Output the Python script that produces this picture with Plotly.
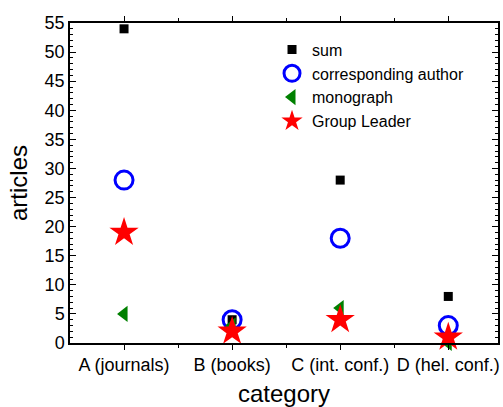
import plotly.graph_objects as go

categories = ["A (journals)", "B (books)", "C (int. conf.)", "D (hel. conf.)"]
sum_vals = [54, 4, 28, 8]
corr_vals = [28, 4, 18, 3]
mono_vals = [5, 3, 6, 0]
leader_vals = [19, 2, 4, 1]

xpos = list(range(len(categories)))

fig = go.Figure()
fig.add_trace(go.Scatter(x=xpos, y=sum_vals, mode="markers", name="sum",
                         marker=dict(symbol="square", size=9, color="black")))
fig.add_trace(go.Scatter(x=xpos, y=corr_vals, mode="markers", name="corresponding author",
                         marker=dict(symbol="circle-open", size=18, color="blue",
                                     line=dict(width=3, color="blue"))))
fig.add_trace(go.Scatter(x=xpos, y=mono_vals, mode="markers", name="monograph",
                         marker=dict(symbol="triangle-left", size=14, color="green")))
fig.add_trace(go.Scatter(x=xpos, y=leader_vals, mode="markers", name="Group Leader",
                         marker=dict(symbol="star", size=22, color="red")))
for tr in fig.data:
    tr.cliponaxis = False

font = "Arial, Liberation Sans, sans-serif"
fig.update_layout(
    width=503, height=407,
    margin=dict(l=70, r=5, t=23, b=64),
    paper_bgcolor="white", plot_bgcolor="white",
    font=dict(family=font, color="black", size=18),
    legend=dict(x=0.472, y=0.97, xanchor="left", yanchor="top",
                bgcolor="rgba(0,0,0,0)", font=dict(size=16), tracegroupgap=0,
                itemsizing="trace"),
    xaxis=dict(range=[-0.5, 3.46], tickvals=xpos, ticktext=categories, automargin=False,
               showline=True, linecolor="black", linewidth=1.5, mirror="ticks",
               ticks="outside", ticklen=5, tickcolor="black", showgrid=False, zeroline=False,
               title=dict(text="category", font=dict(size=24), standoff=15),
               minor=dict(tickvals=[0.5, 1.5, 2.5], ticks="outside", ticklen=3, tickcolor="black")),
    yaxis=dict(range=[0, 55], dtick=5, showline=True, linecolor="black", linewidth=1.5,
               automargin=False,
               mirror="ticks", ticks="inside", ticklen=6, tickcolor="black",
               showgrid=False, zeroline=False,
               title=dict(text="articles", font=dict(size=24), standoff=10),
               minor=dict(dtick=1, ticks="inside", ticklen=3, tickcolor="black")),
)
fig.write_html("out.html", config={"displayModeBar": False},
               post_script="document.body.style.margin='0';document.body.style.padding='0';document.body.style.overflow='hidden';")
